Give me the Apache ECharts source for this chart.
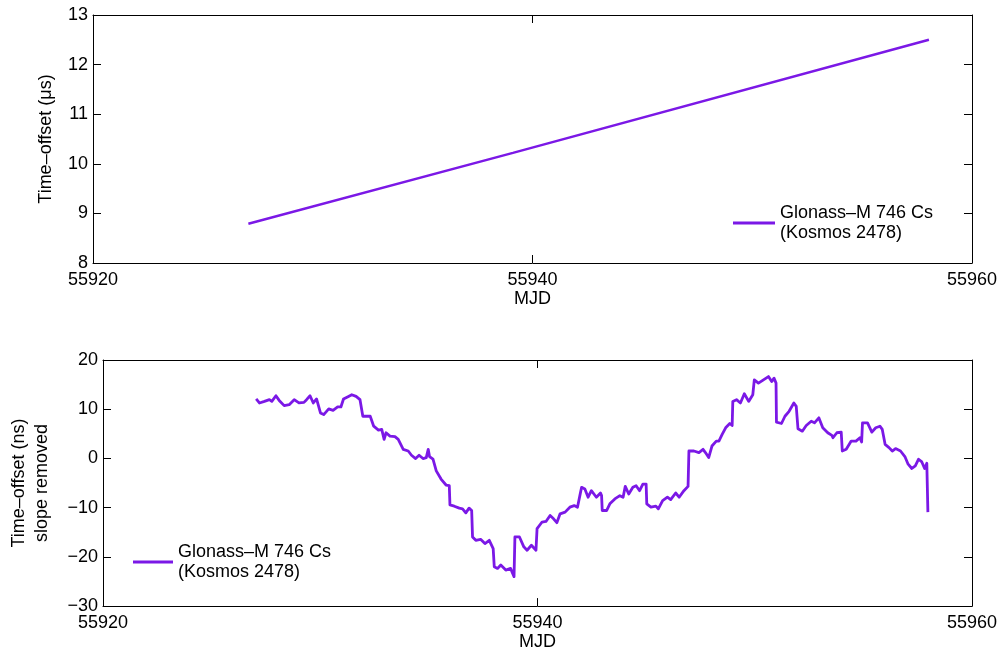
<!DOCTYPE html>
<html>
<head>
<meta charset="utf-8">
<script src="https://cdn.jsdelivr.net/npm/echarts@6/dist/echarts.min.js"></script>
<style>
  html, body { margin: 0; padding: 0; background: #fff; }
  #chart { width: 1004px; height: 652px; }
</style>
</head>
<body>
<div id="chart"></div>
<script>
// Raw time offset of the satellite clock (µs) against MJD
const rawMjd = [55927.07, 55939.11, 55958.04];
const rawOffsetUs = [8.79, 10.22, 12.50];

// Same record with the linear slope removed (ns)
const resMjd = [
  55927.05, 55927.20, 55927.43, 55927.66, 55927.77, 55927.96, 55928.11, 55928.34, 55928.57, 55928.80,
  55929.02, 55929.25, 55929.37, 55929.53, 55929.68, 55929.83, 55930.01, 55930.16, 55930.39, 55930.59,
  55930.80, 55930.95, 55931.07, 55931.30, 55931.45, 55931.65, 55931.83, 55931.91, 55931.96, 55932.14,
  55932.30, 55932.46, 55932.68, 55932.83, 55932.94, 55933.03, 55933.21, 55933.44, 55933.59, 55933.82,
  55934.05, 55934.20, 55934.39, 55934.55, 55934.73, 55934.88, 55934.97, 55935.03, 55935.19, 55935.34,
  55935.56, 55935.79, 55935.94, 55935.97, 55936.17, 55936.40, 55936.55, 55936.70, 55936.85, 55936.97,
  55937.01, 55937.16, 55937.38, 55937.58, 55937.63, 55937.78, 55937.96, 55938.01, 55938.16, 55938.31,
  55938.54, 55938.76, 55938.92, 55938.96, 55939.17, 55939.37, 55939.52, 55939.72, 55939.93, 55939.98,
  55940.21, 55940.39, 55940.58, 55940.74, 55940.89, 55941.04, 55941.27, 55941.49, 55941.69, 55941.84,
  55941.95, 55942.03, 55942.18, 55942.33, 55942.48, 55942.71, 55942.90, 55942.95, 55942.98, 55943.18,
  55943.33, 55943.56, 55943.79, 55943.94, 55944.04, 55944.20, 55944.39, 55944.54, 55944.70, 55944.85,
  55945.00, 55945.03, 55945.22, 55945.45, 55945.56, 55945.76, 55945.98, 55946.13, 55946.36, 55946.52,
  55946.74, 55946.93, 55946.97, 55947.20, 55947.43, 55947.62, 55947.73, 55947.88, 55948.03, 55948.23,
  55948.35, 55948.50, 55948.66, 55948.85, 55948.96, 55948.99, 55949.16, 55949.34, 55949.52, 55949.72,
  55949.91, 55949.98, 55950.17, 55950.40, 55950.63, 55950.78, 55950.89, 55950.98, 55951.00, 55951.23,
  55951.39, 55951.58, 55951.80, 55951.91, 55951.99, 55952.19, 55952.37, 55952.60, 55952.75, 55952.95,
  55953.13, 55953.36, 55953.55, 55953.60, 55953.78, 55953.98, 55954.03, 55954.21, 55954.44, 55954.66,
  55954.84, 55954.92, 55954.96, 55955.19, 55955.39, 55955.57, 55955.76, 55955.87, 55955.95, 55956.00,
  55956.18, 55956.33, 55956.48, 55956.71, 55956.91, 55957.06, 55957.23, 55957.39, 55957.54, 55957.69,
  55957.82, 55957.92, 55957.97
];
const resOffsetNs = [
  12.08, 11.27, 11.59, 11.94, 11.59, 12.74, 11.79, 10.73, 10.93, 11.94,
  11.27, 11.39, 11.94, 12.74, 11.27, 12.08, 9.25, 8.91, 10.06, 9.78,
  10.46, 10.46, 12.08, 12.60, 12.94, 12.60, 11.94, 11.79, 8.57, 8.57,
  8.57, 6.55, 5.75, 5.89, 3.87, 5.22, 4.54, 4.42, 3.87, 1.85,
  1.51, 0.65, -0.02, 0.65, -0.02, 0.18, 1.85, 0.38, -0.16, -2.52,
  -4.19, -5.40, -5.54, -9.44, -9.70, -10.10, -10.24, -11.05, -10.10, -10.58,
  -15.95, -16.63, -16.43, -17.30, -17.64, -16.63, -18.31, -22.00, -22.34, -21.67,
  -22.68, -22.34, -24.01, -15.95, -15.95, -17.96, -18.65, -17.64, -18.65, -14.27,
  -12.92, -12.80, -11.59, -12.26, -13.06, -11.25, -10.91, -9.90, -9.58, -9.90,
  -7.56, -5.87, -6.21, -7.88, -6.55, -7.88, -7.02, -7.56, -10.58, -10.58,
  -9.23, -8.23, -7.56, -7.88, -5.67, -7.22, -5.87, -5.54, -6.55, -5.20,
  -5.20, -9.23, -9.90, -9.70, -10.24, -8.57, -7.88, -8.37, -7.02, -7.88,
  -6.55, -5.67, 1.51, 1.51, 1.19, 1.85, 1.19, 0.18, 2.52, 3.53,
  3.53, 4.88, 6.23, 7.10, 6.69, 11.59, 11.94, 11.27, 13.15, 11.59,
  12.94, 15.97, 15.30, 15.97, 16.63, 15.62, 16.31, 15.30, 7.36, 7.10,
  8.57, 9.58, 11.27, 10.58, 6.03, 5.54, 6.69, 7.56, 7.24, 8.25,
  6.23, 5.22, 4.68, 4.21, 5.22, 5.34, 1.51, 1.85, 3.53, 3.53,
  4.21, 3.33, 7.24, 7.24, 5.34, 6.23, 6.55, 5.89, 6.23, 2.86,
  2.20, 1.51, 2.00, 1.51, 0.38, -1.17, -2.04, -1.51, -0.16, -0.71,
  -2.04, -0.97, -10.91
];

// Axis settings
const mjdTicks = { min: 55920, max: 55960, interval: 20 };
const usTicks = { min: 8, max: 13, interval: 1 };
const nsTicks = { min: -30, max: 20, interval: 10 };

const seriesName = 'Glonass\u2013M 746 Cs\n(Kosmos 2478)';
const purple = '#7B18E6';
const FONT = '"Liberation Sans", Arial, Helvetica, sans-serif';

const zip = (xs, ys) => xs.map((x, i) => [x, ys[i]]);
const minusFmt = v => String(v).replace('-', '\u2212');

const chart = echarts.init(document.getElementById('chart'), null, { renderer: 'canvas' });

const frameLine = { show: true, onZero: false, lineStyle: { color: '#000', width: 1 } };
const tickIn = { show: true, inside: true, length: 8, lineStyle: { color: '#000', width: 1 } };
const labelStyle = { color: '#000', fontSize: 18, fontFamily: FONT };

function xAxes(gridIndex) {
  return [
    {
      type: 'value', gridIndex, position: 'bottom', ...mjdTicks,
      axisLine: frameLine, axisTick: tickIn, splitLine: { show: false },
      axisLabel: { ...labelStyle, margin: 8, formatter: v => String(v) },
      name: 'MJD', nameLocation: 'middle', nameGap: 26,
      nameTextStyle: { ...labelStyle }
    },
    {
      type: 'value', gridIndex, position: 'top', ...mjdTicks,
      axisLine: frameLine, axisTick: tickIn, splitLine: { show: false },
      axisLabel: { show: false }
    }
  ];
}

function yAxes(gridIndex, ticks, name, nameGap) {
  return [
    {
      type: 'value', gridIndex, position: 'left', ...ticks,
      axisLine: frameLine, axisTick: tickIn, splitLine: { show: false },
      axisLabel: { ...labelStyle, margin: 5, formatter: minusFmt },
      name, nameLocation: 'middle', nameGap, nameRotate: 90,
      nameTextStyle: { ...labelStyle, lineHeight: 23 }
    },
    {
      type: 'value', gridIndex, position: 'right', ...ticks,
      axisLine: frameLine, axisTick: tickIn, splitLine: { show: false },
      axisLabel: { show: false }
    }
  ];
}

const legendCommon = {
  orient: 'vertical',
  padding: 0,
  itemGap: 0,
  selectedMode: false,
  icon: 'rect',
  itemHeight: 3,
  textStyle: { ...labelStyle, lineHeight: 20 },
  data: [{ name: seriesName, itemStyle: { color: purple } }]
};

chart.setOption({
  animation: false,
  backgroundColor: '#fff',
  grid: [
    { left: 93, top: 15, width: 879, height: 248 },
    { left: 93, top: 360, width: 879, height: 248 }
  ],
  xAxis: [...xAxes(0), ...xAxes(1)],
  yAxis: [
    ...yAxes(0, usTicks, 'Time\u2013offset (\u03bcs)', 26),
    ...yAxes(1, nsTicks, 'Time\u2013offset (ns)\nslope removed', 49)
  ],
  legend: [
    { ...legendCommon, left: 733, top: 203, itemWidth: 42 },
    { ...legendCommon, left: 133, top: 542, itemWidth: 40 }
  ],
  series: [
    {
      name: seriesName, type: 'line', xAxisIndex: 0, yAxisIndex: 0,
      data: zip(rawMjd, rawOffsetUs), showSymbol: false, symbol: 'none',
      lineStyle: { color: purple, width: 2.5 }, itemStyle: { color: purple }
    },
    {
      name: seriesName, type: 'line', xAxisIndex: 2, yAxisIndex: 2,
      data: zip(resMjd, resOffsetNs), showSymbol: false, symbol: 'none',
      lineStyle: { color: purple, width: 2.8, join: 'round' }, itemStyle: { color: purple }
    }
  ]
});
</script>
</body>
</html>
